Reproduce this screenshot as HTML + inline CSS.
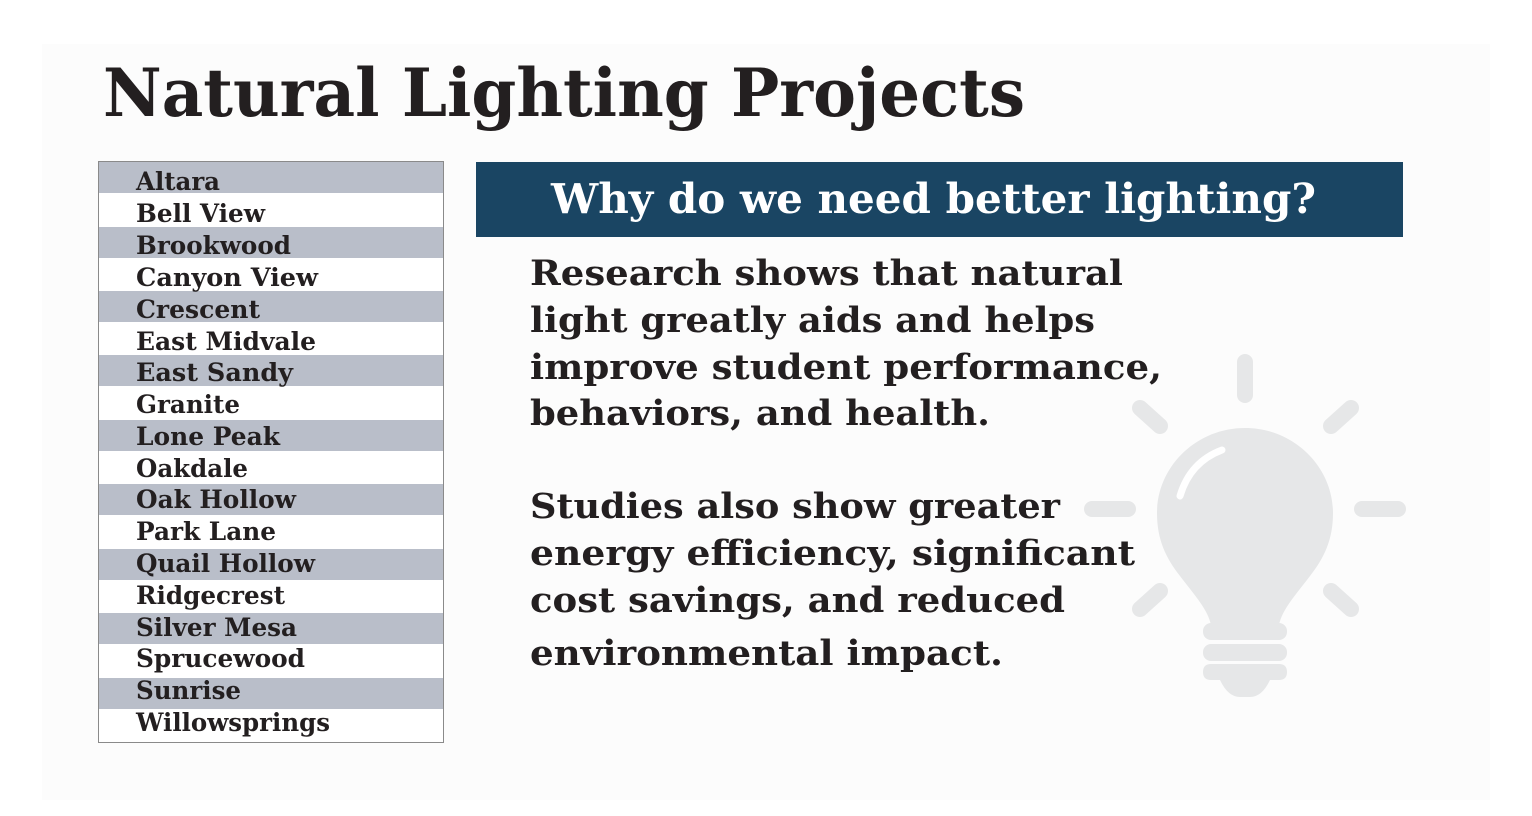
<!DOCTYPE html>
<html><head><meta charset="utf-8"><style>
html,body{margin:0;padding:0;background:#fff;}
svg{display:block;}
text{font-family:"DejaVu Serif","Liberation Serif",serif;font-weight:bold;fill:#231f20;}
</style></head><body>
<svg width="1532" height="816" viewBox="0 0 1532 816" xmlns="http://www.w3.org/2000/svg">
<rect x="0" y="0" width="1532" height="816" fill="#ffffff"/>
<rect x="42" y="44" width="1448" height="756" fill="#fcfcfc"/>
<text x="103" y="116" font-size="66" textLength="922" lengthAdjust="spacingAndGlyphs">Natural Lighting Projects</text>

<g>
<rect x="98.5" y="161.5" width="345" height="581" fill="#fff" stroke="#8a8a8a" stroke-width="1"/>
<rect x="99" y="162" width="344" height="31" fill="#b9bec9"/>
<rect x="99" y="227" width="344" height="31" fill="#b9bec9"/>
<rect x="99" y="291" width="344" height="31" fill="#b9bec9"/>
<rect x="99" y="355" width="344" height="31" fill="#b9bec9"/>
<rect x="99" y="420" width="344" height="31" fill="#b9bec9"/>
<rect x="99" y="484" width="344" height="31" fill="#b9bec9"/>
<rect x="99" y="549" width="344" height="31" fill="#b9bec9"/>
<rect x="99" y="613" width="344" height="31" fill="#b9bec9"/>
<rect x="99" y="678" width="344" height="31" fill="#b9bec9"/>
</g>
<g font-size="25">
<text x="136" y="190" textLength="84" lengthAdjust="spacingAndGlyphs">Altara</text>
<text x="136" y="222" textLength="129" lengthAdjust="spacingAndGlyphs">Bell View</text>
<text x="136" y="254" textLength="155" lengthAdjust="spacingAndGlyphs">Brookwood</text>
<text x="136" y="286" textLength="182" lengthAdjust="spacingAndGlyphs">Canyon View</text>
<text x="136" y="318" textLength="124" lengthAdjust="spacingAndGlyphs">Crescent</text>
<text x="136" y="350" textLength="180" lengthAdjust="spacingAndGlyphs">East Midvale</text>
<text x="136" y="381" textLength="157" lengthAdjust="spacingAndGlyphs">East Sandy</text>
<text x="136" y="413" textLength="104" lengthAdjust="spacingAndGlyphs">Granite</text>
<text x="136" y="445" textLength="144" lengthAdjust="spacingAndGlyphs">Lone Peak</text>
<text x="136" y="477" textLength="112" lengthAdjust="spacingAndGlyphs">Oakdale</text>
<text x="136" y="508" textLength="160" lengthAdjust="spacingAndGlyphs">Oak Hollow</text>
<text x="136" y="540" textLength="140" lengthAdjust="spacingAndGlyphs">Park Lane</text>
<text x="136" y="572" textLength="179" lengthAdjust="spacingAndGlyphs">Quail Hollow</text>
<text x="136" y="604" textLength="149" lengthAdjust="spacingAndGlyphs">Ridgecrest</text>
<text x="136" y="636" textLength="161" lengthAdjust="spacingAndGlyphs">Silver Mesa</text>
<text x="136" y="667" textLength="169" lengthAdjust="spacingAndGlyphs">Sprucewood</text>
<text x="136" y="699" textLength="105" lengthAdjust="spacingAndGlyphs">Sunrise</text>
<text x="136" y="731" textLength="194" lengthAdjust="spacingAndGlyphs">Willowsprings</text>
</g>

<rect x="476" y="162" width="927" height="75" fill="#1a4563"/>
<text x="551" y="213" font-size="41" style="fill:#fff" textLength="765" lengthAdjust="spacingAndGlyphs">Why do we need better lighting?</text>

<g fill="#e6e7e8" stroke="#e6e7e8" stroke-linecap="round" stroke-width="16">
<line x1="1245" y1="362" x2="1245" y2="395"/>
<line x1="1092" y1="509" x2="1128" y2="509"/>
<line x1="1362" y1="509" x2="1398" y2="509"/>
<line x1="1140" y1="408" x2="1160" y2="426"/>
<line x1="1351" y1="408" x2="1331" y2="426"/>
<line x1="1140" y1="609" x2="1160" y2="591"/>
<line x1="1351" y1="609" x2="1331" y2="591"/>
</g>
<g fill="#e6e7e8">
<path d="M1245 428 C1196 428 1157 467 1157 513 C1157 540 1166 558 1180 576 C1196 597 1208 610 1211 625 L1279 625 C1282 610 1294 597 1310 576 C1324 558 1333 540 1333 513 C1333 467 1294 428 1245 428 Z"/>
<rect x="1203" y="623" width="84" height="17" rx="8"/>
<rect x="1203" y="644" width="84" height="17" rx="8"/>
<path d="M1211 664 L1279 664 Q1287 664 1287 672 Q1287 680 1279 680 L1270 680 Q1262 697 1250 697 L1240 697 Q1228 697 1220 680 L1211 680 Q1203 680 1203 672 Q1203 664 1211 664 Z"/>
</g>
<path d="M1180 496 Q1190 462 1222 450" fill="none" stroke="#fff" stroke-width="7" stroke-linecap="round"/>

<g font-size="35">
<text x="530" y="285" textLength="593" lengthAdjust="spacingAndGlyphs">Research shows that natural</text>
<text x="530" y="332" textLength="565" lengthAdjust="spacingAndGlyphs">light greatly aids and helps</text>
<text x="530" y="379" textLength="632" lengthAdjust="spacingAndGlyphs">improve student performance,</text>
<text x="530" y="425" textLength="460" lengthAdjust="spacingAndGlyphs">behaviors, and health.</text>
<text x="530" y="518" textLength="530" lengthAdjust="spacingAndGlyphs">Studies also show greater</text>
<text x="530" y="565" textLength="605" lengthAdjust="spacingAndGlyphs">energy efficiency, significant</text>
<text x="530" y="612" textLength="535" lengthAdjust="spacingAndGlyphs">cost savings, and reduced</text>
<text x="530" y="665" textLength="473" lengthAdjust="spacingAndGlyphs">environmental impact.</text>
</g>
</svg>
</body></html>
